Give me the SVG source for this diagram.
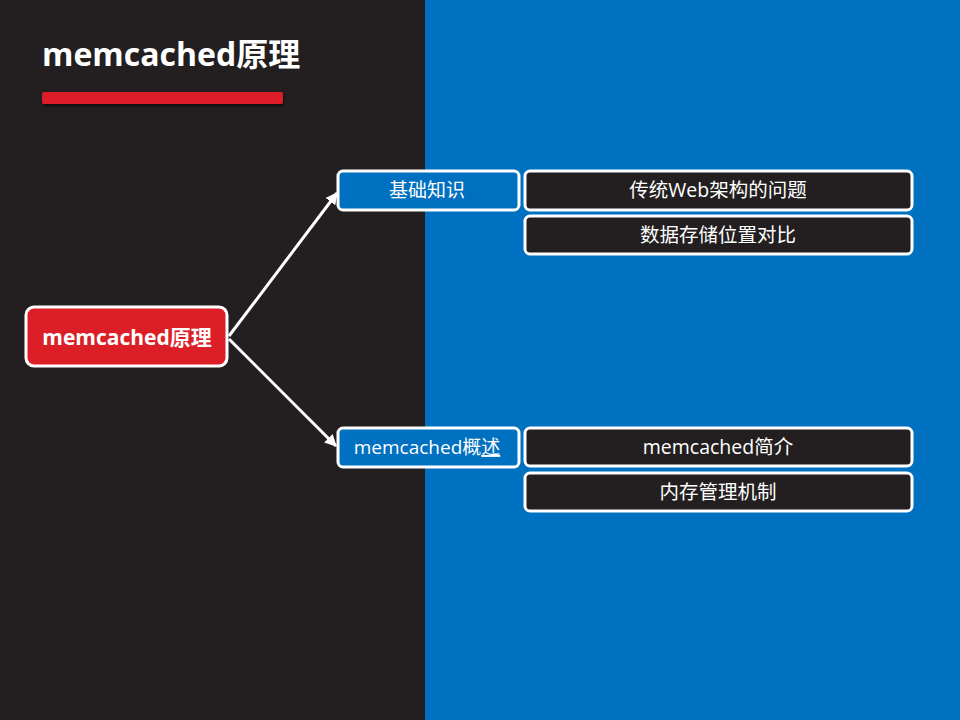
<svg xmlns="http://www.w3.org/2000/svg" width="960" height="720" viewBox="0 0 960 720">
<defs>
<style>
.t{font-family:"Open Sans","Liberation Sans","Noto Sans CJK SC",sans-serif;fill:#fff;text-anchor:middle}
.blue{fill:#0070C0;stroke:#fff;stroke-width:3}
.dark{fill:#231F20;stroke:#fff;stroke-width:3}
.conn{stroke:#fff;stroke-width:3;fill:none}
</style>
<marker id="ah" viewBox="0 0 10 10" refX="9" refY="5" markerWidth="4" markerHeight="4" orient="auto" markerUnits="strokeWidth">
<path d="M0,0 L10,5 L0,10 z" fill="#fff"/>
</marker>
<filter id="sh" x="-10%" y="-50%" width="120%" height="250%">
<feDropShadow dx="1" dy="2" stdDeviation="1.5" flood-color="#000" flood-opacity="0.6"/>
</filter>
</defs>
<rect x="0" y="0" width="425" height="720" fill="#231F20"/>
<rect x="425" y="0" width="535" height="720" fill="#0070C0"/>
<g id="title">
<text x="42" y="66" font-family="'Open Sans','Liberation Sans','Noto Sans CJK SC',sans-serif" font-weight="bold" font-size="32" fill="#fff">memcached原理</text>
<rect x="42" y="92" width="241" height="12" rx="2" fill="#DC1E27" filter="url(#sh)"/>
</g>
<g id="connectors">
<path class="conn" d="M229,336 L337,193" marker-end="url(#ah)"/>
<path class="conn" d="M229,339 L336,446" marker-end="url(#ah)"/>
</g>
<g id="root">
<rect x="26" y="307" width="201" height="59" rx="8" fill="#DC1E27" stroke="#fff" stroke-width="3"/>
<text class="t" x="127" y="345" font-size="21" font-weight="bold">memcached原理</text>
</g>
<g id="n1">
<rect class="blue" x="338" y="171" width="181" height="39" rx="5"/>
<text class="t" x="427" y="197" font-size="19">基础知识</text>
</g>
<g id="n2">
<rect class="blue" x="338" y="428" width="181" height="39" rx="5"/>
<text class="t" x="427" y="454" font-size="19">memcached概<tspan text-decoration="underline">述</tspan></text>
</g>
<g id="l1">
<rect class="dark" x="525" y="171" width="387" height="39" rx="5"/>
<text class="t" x="718" y="197" font-size="19.5">传统Web架构的问题</text>
</g>
<g id="l2">
<rect class="dark" x="525" y="216" width="387" height="38" rx="5"/>
<text class="t" x="718" y="242" font-size="19.5">数据存储位置对比</text>
</g>
<g id="l3">
<rect class="dark" x="525" y="428" width="387" height="38" rx="5"/>
<text class="t" x="718" y="454" font-size="19.5">memcached简介</text>
</g>
<g id="l4">
<rect class="dark" x="525" y="473" width="387" height="38" rx="5"/>
<text class="t" x="718" y="499" font-size="19.5">内存管理机制</text>
</g>
</svg>
